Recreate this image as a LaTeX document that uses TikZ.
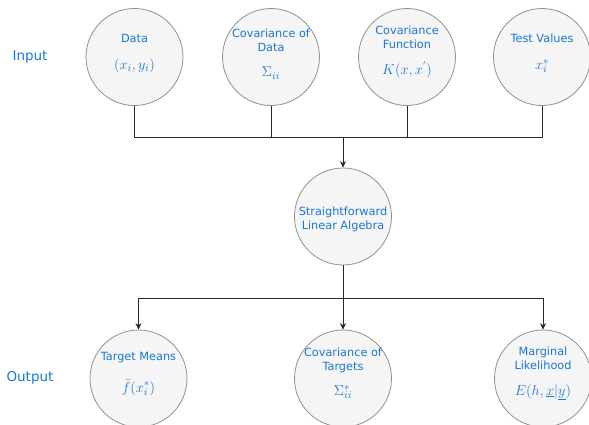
\documentclass[tikz,border=0pt]{standalone}
\usepackage{fontspec}
\setmainfont{DejaVu Sans}
\usetikzlibrary{arrows.meta}
\definecolor{txtblue}{RGB}{25,118,215}
\definecolor{circfill}{RGB}{245,245,245}
\definecolor{circline}{RGB}{145,145,145}
\definecolor{wire}{RGB}{40,40,40}
\tikzset{
  bubble/.style={circle, draw=circline, fill=circfill, line width=0.8pt, minimum size=97pt, inner sep=0pt},
  lbl/.style={text=txtblue, font=\fontsize{11.3}{14}\selectfont, align=center, inner sep=0pt},
  mth/.style={text=txtblue, font=\fontsize{15}{17}\selectfont, inner sep=0pt},
  side/.style={text=txtblue, font=\fontsize{13.5}{16}\selectfont, inner sep=0pt},
  wireline/.style={draw=wire, line width=0.8pt},
  arr/.style={wireline, -{Stealth[length=6.5pt,width=6pt]}}
}
\begin{document}
\begin{tikzpicture}[x=1pt,y=-1pt]
\useasboundingbox (0,0) rectangle (589,424);
% side labels
\node[side] (inlbl) at (30,57) {Input};
\node[side] (outlbl) at (30,378) {Output};
% input circles
\node[bubble] (d1) at (134.5,57) {};
\node[bubble] (d2) at (271,57) {};
\node[bubble] (d3) at (407,57) {};
\node[bubble] (d4) at (542,57) {};
\node[lbl] (t1) at (134.5,38) {Data};
\node[mth] (m1) at (134.5,66) {$(x_i,y_i)$};
\node[lbl] (t2) at (271,40) {Covariance of\\Data};
\node[mth] (m2) at (271,73) {$\Sigma_{ii}$};
\node[lbl] (t3) at (407,37) {Covariance\\Function};
\node[mth] (m3) at (407,70) {$K(x,x^{'})$};
\node[lbl] (t4) at (542,38) {Test Values};
\node[mth] (m4) at (542,66) {$x_i^*$};
% middle
\node[bubble] (alg) at (343,216.5) {};
\node[lbl] (talg) at (343,219) {Straightforward\\Linear Algebra};
% outputs
\node[bubble] (o1) at (138.5,378.5) {};
\node[bubble] (o2) at (343,378.5) {};
\node[bubble] (o3) at (543,378.5) {};
\node[lbl] (to1) at (138.5,358) {Target Means};
\node[mth] (mo1) at (138.5,388) {$\bar{f}(x_i^*)$};
\node[lbl] (to2) at (343,360.5) {Covariance of\\Targets};
\node[mth] (mo2) at (343,392) {$\Sigma_{ii}^*$};
\node[lbl] (to3) at (543,358.5) {Marginal\\Likelihood};
\node[mth] (mo3) at (543,392) {$E(h,\underline{x}|\underline{y})$};
% wiring
\coordinate (bustop) at (343,137);
\coordinate (busbot) at (343,298);
\draw[wireline] (d1.south) |- (bustop);
\draw[wireline] (d2.south) |- (bustop);
\draw[wireline] (d3.south) |- (bustop);
\draw[wireline] (d4.south) |- (bustop);
\draw[arr] (bustop) -- (alg.north);
\draw[arr] (alg.south) -- (o2.north);
\draw[arr] (busbot) -| (o1.north);
\draw[arr] (busbot) -| (o3.north);
\end{tikzpicture}
\end{document}
